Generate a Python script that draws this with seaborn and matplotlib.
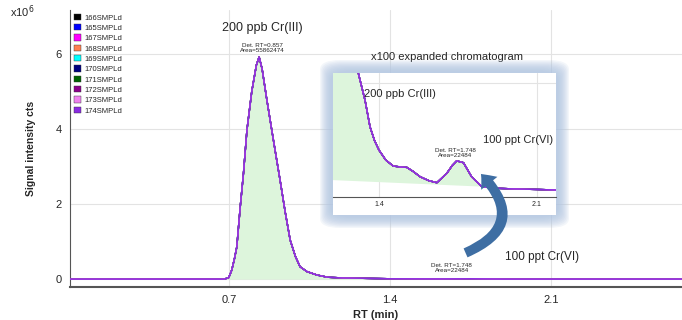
import matplotlib
matplotlib.use("Agg")
import matplotlib.pyplot as plt
import seaborn as sns
import pandas as pd
import numpy as np
from matplotlib.patches import FancyBboxPatch, FancyArrowPatch, Rectangle, Patch

# main chromatogram (signal in 1e6 cts)
rt = [0.01, 0.30, 0.60, 0.68, 0.70, 0.713, 0.725, 0.735, 0.75, 0.764, 0.779, 0.80,
      0.82, 0.832, 0.845, 0.865, 0.887, 0.905, 0.923, 0.945, 0.967, 0.99, 1.01,
      1.04, 1.083, 1.13, 1.20, 1.30, 1.40, 1.60, 1.75, 1.90, 2.20, 2.50, 2.67]
signal = [0.0, 0.0, 0.0, 0.0, 0.04, 0.24, 0.55, 0.86, 1.93, 2.82, 3.97, 5.0,
          5.7, 5.92, 5.6, 4.8, 3.97, 3.3, 2.64, 1.8, 1.04, 0.6, 0.33,
          0.2, 0.11, 0.05, 0.03, 0.02, 0.01, 0.005, 0.01, 0.0, 0.0, 0.0, 0.0]

# x100 expanded view (signal in 1e4 cts)
inset_rt = [1.196, 1.26, 1.29, 1.308, 1.338, 1.36, 1.38, 1.40, 1.43, 1.463, 1.50,
            1.523, 1.55, 1.582, 1.62, 1.656, 1.70, 1.725, 1.744, 1.774, 1.81,
            1.855, 1.90, 1.937, 2.00, 2.10, 2.184]
inset_signal = [30.0, 12.0, 6.0, 4.5, 3.45, 2.43, 1.9, 1.53, 1.15, 0.92, 0.88,
                0.87, 0.72, 0.51, 0.36, 0.28, 0.64, 0.95, 1.12, 1.05, 0.51,
                0.13, 0.08, 0.06, 0.04, 0.02, 0.0]
inset_base_rt = [1.196, 1.855]
inset_base_val = [0.38, 0.13]

samples = ["166SMPLd", "165SMPLd", "167SMPLd", "168SMPLd", "169SMPLd",
           "170SMPLd", "171SMPLd", "172SMPLd", "173SMPLd", "174SMPLd"]
sample_colors = ["#000000", "#0000ff", "#ff00ff", "#ff7f50", "#00ffff",
                 "#000080", "#006400", "#8b008b", "#ee82ee", "#8a2be2"]

sns.set_style("white")
plt.rcParams["font.family"] = ["Liberation Sans", "DejaVu Sans"]

df = pd.DataFrame({
    "rt": rt * len(samples),
    "signal": signal * len(samples),
    "sample": np.repeat(samples, len(rt)),
})
df_in = pd.DataFrame({
    "rt": inset_rt * len(samples),
    "signal": inset_signal * len(samples),
    "sample": np.repeat(samples, len(inset_rt)),
})
palette = dict(zip(samples, sample_colors))

fig = plt.figure(figsize=(6.82, 3.2), dpi=100)
ax = fig.add_axes([70 / 682, 33 / 320, 612 / 682, 277 / 320])

rt_arr = np.array(rt)
ax.fill_between(rt, signal, 0, where=(rt_arr >= 0.68) & (rt_arr <= 1.30),
                color="#ddf5dc", lw=0, zorder=1)
sns.lineplot(data=df, x="rt", y="signal", hue="sample", palette=palette,
             estimator=None, lw=1.0, legend=False, ax=ax, zorder=3)

ax.set_xlim(0.01, 2.67)
ax.set_ylim(-0.21, 7.17)
ax.set_xticks([0.7, 1.4, 2.1])
ax.set_xticklabels(["0.7", "1.4", "2.1"])
ax.set_yticks([0, 2, 4, 6])
ax.grid(True, color="#e3e3e3", lw=0.8)
ax.tick_params(axis="both", labelsize=8, length=3, color="#555555", pad=3)
ax.tick_params(axis="x", length=0, pad=6)
for s in ["top", "right"]:
    ax.spines[s].set_visible(False)
ax.spines["left"].set_color("#555555")
ax.spines["bottom"].set_color("#555555")
ax.spines["bottom"].set_linewidth(1.5)
ax.set_xlabel("RT (min)", fontsize=8, fontweight="bold", labelpad=3)
ax.set_ylabel("Signal intensity cts", fontsize=7.5, fontweight="bold", labelpad=14)
fig.text(10 / 682, 1 - 17 / 320, "x10$^6$", fontsize=8)

handles = [Patch(facecolor=c, edgecolor="#333333", lw=0.3) for c in sample_colors]
leg = ax.legend(handles, samples, loc="upper left", bbox_to_anchor=(0.0, 1.0),
                frameon=False, fontsize=5.5, handlelength=0.9, handleheight=0.9,
                labelspacing=0.33, handletextpad=0.5, borderaxespad=0.1)

ax.text(0.845, 6.69, "200 ppb Cr(III)", ha="center", va="center", fontsize=9)
ax.text(0.845, 6.16, "Det. RT=0.857\nArea=55862474", ha="center", va="center",
        fontsize=4.5, linespacing=0.9)
ax.text(1.67, 0.29, "Det. RT=1.748\nArea=22484", ha="center", va="center",
        fontsize=4.5, linespacing=0.9)
ax.text(1.90, 0.59, "100 ppt Cr(VI)", ha="left", va="center", fontsize=8.5)
ax.text(1.65, 5.92, "x100 expanded chromatogram", ha="center", va="center", fontsize=8)

# soft glow frame around the expanded view
for i in range(10):
    pad = 13 - i * 1.2
    fig.patches.append(FancyBboxPatch(
        ((333 - pad) / 682, 1 - (215 + pad) / 320),
        (223 + 2 * pad) / 682, (142 + 2 * pad) / 320,
        boxstyle="round,pad=0,rounding_size=0.03", transform=fig.transFigure,
        facecolor="#adc3e0", edgecolor="none", alpha=0.14, zorder=1))
fig.patches.append(Rectangle((333 / 682, 1 - 215 / 320), 223 / 682, 142 / 320,
                             transform=fig.transFigure, facecolor="white",
                             edgecolor="none", zorder=2))

ins = fig.add_axes([333 / 682, 1 - 197 / 320, 223 / 682, 124 / 320])
ins.set_zorder(3)
in_rt = np.array(inset_rt)
base = np.interp(in_rt, inset_base_rt, inset_base_val)
ins.fill_between(in_rt, inset_signal, base, where=in_rt <= 1.855,
                 color="#ddf5dc", lw=0, zorder=1)
sns.lineplot(data=df_in, x="rt", y="signal", hue="sample", palette=palette,
             estimator=None, lw=1.0, legend=False, ax=ins, zorder=3)
ins.set_xlim(1.196, 2.184)
ins.set_ylim(-0.27, 4.5)
ins.set_xticks([1.4, 2.1])
ins.set_xticklabels(["1.4", "2.1"])
ins.set_yticks([4.1])
ins.set_yticklabels([])
ins.grid(True, color="#e3e3e3", lw=0.8)
ins.tick_params(axis="x", labelsize=5, length=2, pad=1, color="#555555")
ins.tick_params(axis="y", length=0)
ins.set_xlabel("")
ins.set_ylabel("")
for s in ["top", "right", "left"]:
    ins.spines[s].set_visible(False)
ins.spines["bottom"].set_color("#555555")
ins.text(1.332, 3.7, "200 ppb Cr(III)", ha="left", va="center", fontsize=8)
ins.text(1.737, 1.42, "Det. RT=1.748\nArea=22484", ha="center", va="center",
         fontsize=4.5, linespacing=0.9)
ins.text(1.861, 1.94, "100 ppt Cr(VI)", ha="left", va="center", fontsize=8)

# curved arrow linking the two Cr(VI) labels
arrow = FancyArrowPatch((463 / 682, 1 - 254 / 320), (479 / 682, 1 - 172 / 320),
                        transform=fig.transFigure,
                        connectionstyle="arc3,rad=0.75",
                        arrowstyle="simple,head_length=9,head_width=15,tail_width=7",
                        mutation_scale=1, color="#3e6ea3", lw=0, zorder=5)
fig.patches.append(arrow)

fig.savefig("out.png", dpi=100)
